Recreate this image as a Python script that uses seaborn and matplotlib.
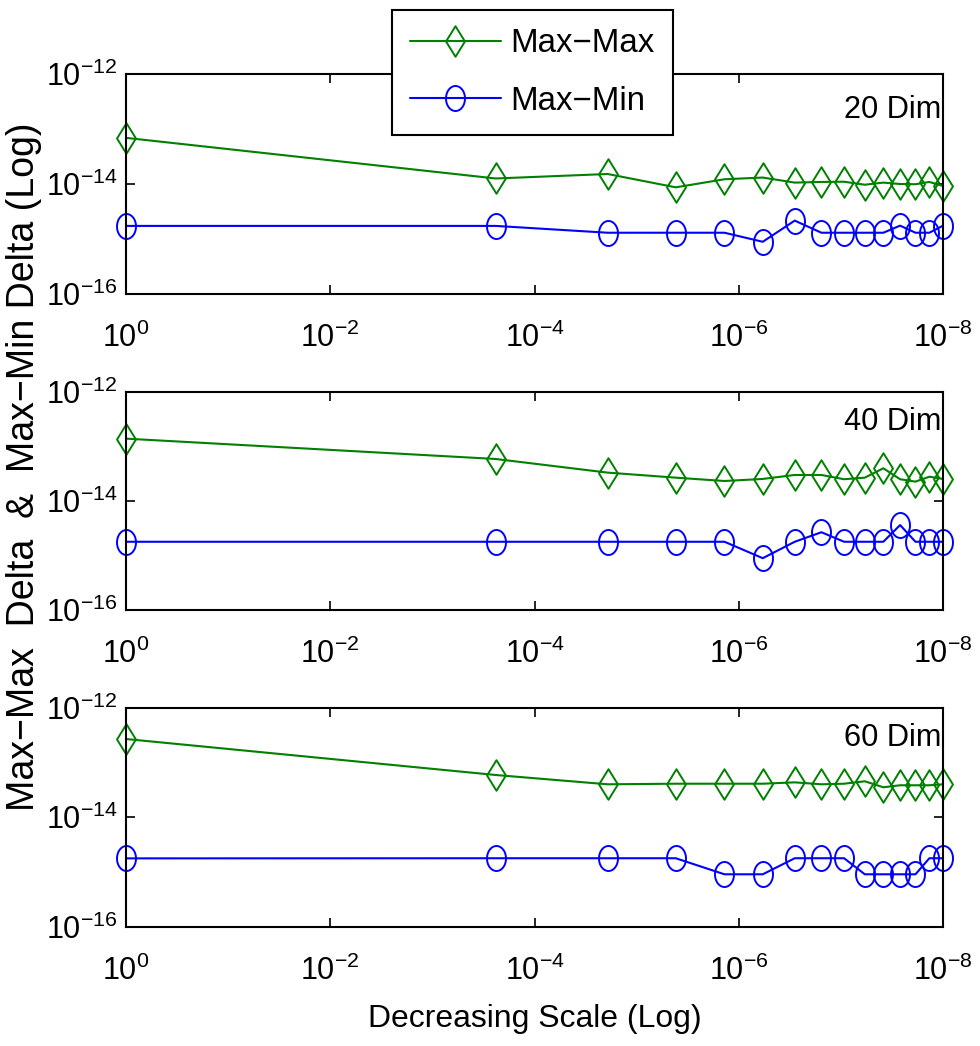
import numpy as np
import matplotlib
matplotlib.use("Agg")
import matplotlib.pyplot as plt
from matplotlib import font_manager
from matplotlib.path import Path
from matplotlib.markers import MarkerStyle
from matplotlib.ticker import NullLocator, LogFormatterSciNotation
import seaborn as sns

# ---------------- data ----------------
scale = [1.0, 2.4e-4, 1.92e-5, 4.14e-6, 1.38e-6, 5.82e-7, 2.83e-7, 1.55e-7,
         9.3e-8, 5.83e-8, 3.84e-8, 2.63e-8, 1.86e-8, 1.36e-8, 1.0e-8]

dim20_maxmax = [6.9e-14, 1.26e-14, 1.52e-14, 8.7e-15, 1.22e-14, 1.31e-14, 1.06e-14, 1.09e-14,
                1.10e-14, 9.7e-15, 1.06e-14, 1.0e-14, 9.9e-15, 1.09e-14, 9.2e-15]
dim20_maxmin = [1.73e-15, 1.73e-15, 1.30e-15, 1.30e-15, 1.30e-15, 8.9e-16, 2.16e-15, 1.30e-15,
                1.30e-15, 1.30e-15, 1.30e-15, 1.75e-15, 1.30e-15, 1.30e-15, 1.75e-15]

dim40_maxmax = [1.38e-13, 5.85e-14, 3.29e-14, 2.66e-14, 2.31e-14, 2.52e-14, 2.98e-14, 2.98e-14,
                2.49e-14, 2.66e-14, 3.95e-14, 2.49e-14, 2.25e-14, 2.77e-14, 2.52e-14]
dim40_maxmin = [1.78e-15, 1.78e-15, 1.78e-15, 1.78e-15, 1.78e-15, 8.9e-16, 1.78e-15, 2.66e-15,
                1.78e-15, 1.78e-15, 1.78e-15, 3.6e-15, 1.78e-15, 1.78e-15, 1.78e-15]

dim60_maxmax = [2.68e-13, 5.9e-14, 3.99e-14, 4.09e-14, 4.09e-14, 4.09e-14, 4.33e-14, 3.99e-14,
                4.09e-14, 4.53e-14, 3.52e-14, 3.83e-14, 3.83e-14, 3.83e-14, 3.99e-14]
dim60_maxmin = [1.77e-15, 1.78e-15, 1.78e-15, 1.78e-15, 9.06e-16, 9.06e-16, 1.78e-15, 1.78e-15,
                1.78e-15, 9.06e-16, 9.06e-16, 9.06e-16, 9.06e-16, 1.78e-15, 1.78e-15]

panel_labels = ["20 Dim", "40 Dim", "60 Dim"]
series_names = ["Max\u2212Max", "Max\u2212Min"]
x_ticks = [1e0, 1e-2, 1e-4, 1e-6, 1e-8]
y_ticks = [1e-16, 1e-14, 1e-12]
x_label = "Decreasing Scale (Log)"
y_label = "Max\u2212Max  Delta  &  Max\u2212Min Delta (Log)"

# ---------------- style ----------------
sns.set_style("ticks")
names = {f.name for f in font_manager.fontManager.ttflist}
NARROW = "Liberation Sans Narrow" in names
fam = "Liberation Sans Narrow" if NARROW else "Liberation Sans"
k = 1.0 if NARROW else 0.82
plt.rcParams["font.family"] = [fam, "DejaVu Sans"]
plt.rcParams["mathtext.fontset"] = "custom"
plt.rcParams["mathtext.rm"] = fam
plt.rcParams["mathtext.it"] = fam
plt.rcParams["mathtext.bf"] = fam
plt.rcParams["mathtext.sf"] = fam
plt.rcParams["axes.unicode_minus"] = True
for key in ["text.color", "axes.labelcolor", "xtick.color", "ytick.color", "axes.edgecolor"]:
    plt.rcParams[key] = "black"

GREEN = "#008000"
BLUE = "#0000ff"

t = np.linspace(0, 2 * np.pi, 60)
ell = Path(np.column_stack([0.76 * np.cos(t), np.sin(t)]), closed=True)
circ_marker = MarkerStyle(ell)
dia = Path([[0, 1], [0.62, 0], [0, -1], [-0.62, 0], [0, 1]], closed=True)
dia_marker = MarkerStyle(dia)

fig = plt.figure(figsize=(9.8, 10.46), dpi=100)
fig.patch.set_facecolor("white")

W, H = 980.0, 1046.0
left, right = 126 / W, 943 / W
panels = [(74, 294), (391.7, 610), (707.7, 926.7)]
data = [(dim20_maxmax, dim20_maxmin), (dim40_maxmax, dim40_maxmin), (dim60_maxmax, dim60_maxmin)]
dim_y = [0.835, 0.862, 0.862]

tick_fs = 22 if not NARROW else 26

axes = []
for i, ((top, bot), (mm, mn)) in enumerate(zip(panels, data)):
    ax = fig.add_axes([left, 1 - bot / H, right - left, (bot - top) / H])
    ax.set_xscale("log")
    ax.set_yscale("log")
    sns.lineplot(x=scale, y=mm, ax=ax, color=GREEN, lw=1.5, marker=dia_marker,
                 markersize=22, mfc="none", mec=GREEN, mew=1.4, label=series_names[0],
                 clip_on=False, sort=False)
    sns.lineplot(x=scale, y=mn, ax=ax, color=BLUE, lw=1.5, marker=circ_marker,
                 markersize=18, mfc="none", mec=BLUE, mew=1.4, label=series_names[1],
                 clip_on=False, sort=False)
    if ax.get_legend() is not None:
        ax.get_legend().remove()
    ax.set_xlim(1e0, 1e-8)
    ax.set_ylim(1e-16, 1e-12)
    ax.set_xticks(x_ticks)
    ax.set_yticks(y_ticks)
    ax.xaxis.set_minor_locator(NullLocator())
    ax.yaxis.set_minor_locator(NullLocator())
    ax.xaxis.set_major_formatter(LogFormatterSciNotation())
    ax.yaxis.set_major_formatter(LogFormatterSciNotation())
    ax.tick_params(which="both", direction="in", top=True, right=True,
                   length=6.5, width=1.2, labelsize=tick_fs, colors="black")
    ax.tick_params(axis="x", pad=21)
    ax.tick_params(axis="y", pad=6)
    for sp in ax.spines.values():
        sp.set_visible(True)
        sp.set_linewidth(1.5)
        sp.set_color("black")
    ax.set_xlabel("")
    ax.set_ylabel("")
    ax.text(0.998, dim_y[i], panel_labels[i], transform=ax.transAxes,
            ha="right", va="center", fontsize=27 * k, color="black")
    axes.append(ax)

handles, labels = axes[0].get_legend_handles_labels()
leg = fig.legend(handles, labels, loc="center",
                 bbox_to_anchor=(532.5 / W, 1 - 72.5 / H),
                 fontsize=29 * k, frameon=True, fancybox=False, framealpha=1,
                 edgecolor="black", handlelength=2.75, handletextpad=0.3,
                 borderpad=0.55, labelspacing=0.8, numpoints=1, borderaxespad=0)
leg.get_frame().set_linewidth(1.5)
for txt in leg.get_texts():
    txt.set_color("black")

fig.text(534.5 / W, 1 - 1019 / H, x_label, ha="center", va="center", fontsize=28 * k,
         color="black")
fig.text(24 / W, 1 - 467 / H, y_label, ha="center", va="center", rotation=90,
         fontsize=27, family=["Liberation Sans", "DejaVu Sans"], color="black")

fig.savefig("out.png", dpi=100, facecolor="white")
